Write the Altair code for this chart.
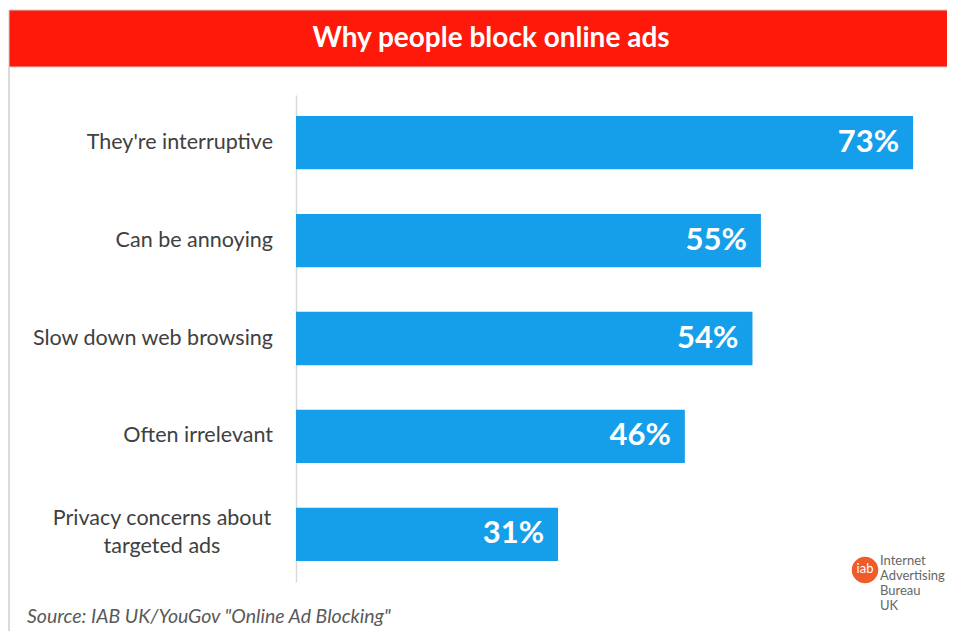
import altair as alt
import pandas as pd

categories = ["They're interruptive", "Can be annoying", "Slow down web browsing",
              "Often irrelevant", "Privacy concerns about\ntargeted ads"]
values = [73, 55, 54, 46, 31]
value_labels = ["73%", "55%", "54%", "46%", "31%"]
title_text = "Why people block online ads"
source_text = 'Source: IAB UK/YouGov "Online Ad Blocking"'
logo_lines = "Internet\nAdvertising\nBureau\nUK"

df = pd.DataFrame({"cat": categories, "val": values, "lab": value_labels,
                   "multi": ["\n" in c for c in categories]})

BAR = "#159EE9"
RED = "#FE190A"
FONT = "Lato"

yenc = alt.Y("cat:N", sort=categories,
             scale=alt.Scale(paddingInner=0.456, paddingOuter=0.215),
             axis=alt.Axis(title=None, labels=False, ticks=False, grid=False,
                           domainColor="#d9d9d9", domainWidth=1.5))
xenc = alt.X("val:Q", scale=alt.Scale(domain=[0, 75], nice=False), axis=None)

base = alt.Chart(df)

bars = base.mark_bar(color=BAR).encode(x=xenc, y=yenc)

vals = base.mark_text(align="right", baseline="middle", dx=-14, color="white",
                      font=FONT, fontWeight="bold", fontSize=31).encode(
    x=xenc, y=yenc, text="lab:N")

single = base.transform_filter("!datum.multi").mark_text(
    align="right", baseline="middle", color="#404040", font=FONT, fontSize=21.5).encode(
    x=alt.value(-23), y=yenc, text="cat:N")

multi = base.transform_filter("datum.multi").transform_calculate(
    t="split(datum.cat, '\\n')").mark_text(
    align="center", baseline="middle", color="#404040", font=FONT, fontSize=21.5,
    lineHeight=28, dy=-15).encode(
    x=alt.value(-134), y=yenc, text="t:N")

one = alt.Chart(pd.DataFrame({"a": [0]}))

banner = one.mark_rect(color=RED, stroke="#cfcfcf", strokeWidth=1).encode(
    x=alt.value(-287), x2=alt.value(660), y=alt.value(-85), y2=alt.value(-28))

left_border = one.mark_rule(color="#cfcfcf", strokeWidth=1.5).encode(
    x=alt.value(-287), y=alt.value(-28), y2=alt.value(545))

title = one.mark_text(align="center", baseline="middle", color="white", font=FONT,
                      fontWeight="bold", fontSize=28).encode(
    x=alt.value(195), y=alt.value(-56), text=alt.value(title_text))

source = one.mark_text(align="left", baseline="middle", color="#595959", font=FONT,
                       fontStyle="italic", fontSize=19.5).encode(
    x=alt.value(-269), y=alt.value(522), text=alt.value(source_text))

logo_circle = one.mark_point(filled=True, shape="circle", color="#F15A29", opacity=1,
                             size=700).encode(x=alt.value(569), y=alt.value(475))
logo_iab = one.mark_text(align="center", baseline="middle", color="white", font=FONT,
                         fontSize=13).encode(x=alt.value(569), y=alt.value(474),
                                             text=alt.value("iab"))
logo_txt = one.mark_text(align="left", baseline="middle", color="#666666", font=FONT,
                         fontSize=13, lineHeight=15, lineBreak="\n").encode(
    x=alt.value(584), y=alt.value(466), text=alt.value(logo_lines))

chart = alt.layer(banner, left_border, title, bars, vals, single, multi, source,
                  logo_circle, logo_iab, logo_txt).properties(
    width=634, height=487,
    background="white",
    autosize=alt.AutoSizeParams(type="none"),
    padding={"left": 288, "top": 87, "right": 17, "bottom": 49},
).configure_view(strokeWidth=0, stroke=None)

chart.save("out.html", embed_options={"renderer": "svg", "actions": False})
